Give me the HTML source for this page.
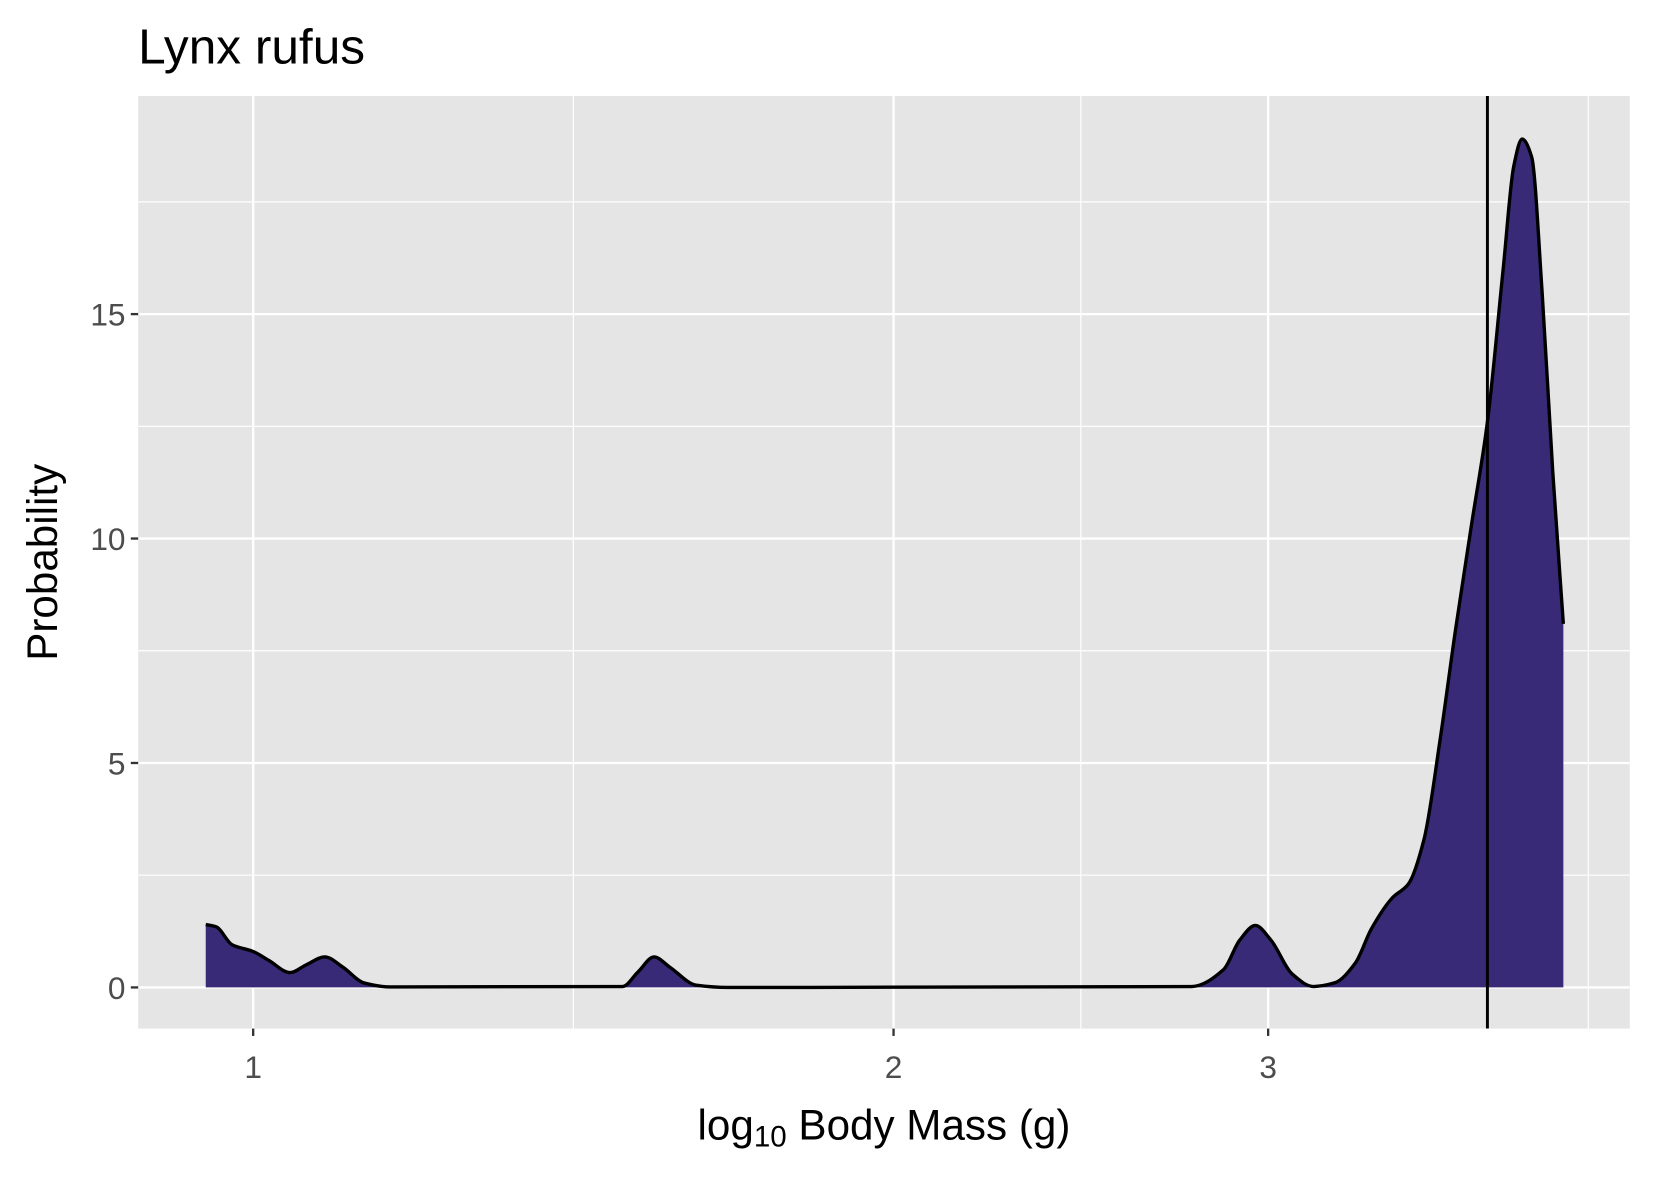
<!DOCTYPE html>
<html><head><meta charset="utf-8"><style>
html,body{margin:0;padding:0;background:#fff}
svg{display:block;font-family:"Liberation Sans",Arial,sans-serif}
</style></head><body>
<svg id="chart" width="1653" height="1181" viewBox="0 0 1567 1119.5" preserveAspectRatio="none" xmlns="http://www.w3.org/2000/svg">
<text x="131" y="60" font-size="47" fill="#000">Lynx rufus</text>
<rect x="131" y="91" width="1414" height="884" fill="#e5e5e5"/>
<g id="grid"></g>
<g id="marks"></g>
<g id="axes"></g>
<text x="838" y="1080" font-size="40" text-anchor="middle" fill="#000">log<tspan font-size="28" dy="7">10</tspan><tspan dy="-7"> Body Mass (g)</tspan></text>
<text transform="translate(54,533) rotate(-90)" font-size="40" text-anchor="middle" fill="#000">Probability</text>
</svg>
<script>
// x values are log10 of the axis value (axis is log-scaled)
const logX = [-0.0223,-0.0174,-0.0099,0,0.0074,0.0174,0.0248,0.0337,0.0422,0.0521,0.0645,0.1736,0.1810,0.1884,0.1959,0.2083,0.2231,0.4413,0.4562,0.4637,0.4711,0.4785,0.4884,0.4984,0.5083,0.5182,0.5256,0.5356,0.5430,0.5504,0.5579,0.5653,0.5727,0.5802,0.5876,0.5926,0.5965,0.6010,0.6059,0.6109,0.6159];
const density = [1.4,1.35,0.95,0.8,0.6,0.33,0.5,0.68,0.45,0.1,0.01,0.02,0.35,0.68,0.45,0.05,0,0.02,0.4,1.05,1.38,1.05,0.3,0.02,0.1,0.55,1.3,2.0,2.3,3.3,5.5,8.0,10.3,12.6,16.0,18.3,18.9,18.5,15.5,11.5,8.1];
const vline = [0.5802];
const xTicks = [1,2,3];
const xMinor = [1.4142,2.4495,4.2426];
const yTicks = [0,5,10,15];
const yMinor = [2.5,7.5,12.5,17.5];

const NS="http://www.w3.org/2000/svg";
const xs = v => 240 + Math.log10(v)*2016.6;
const xl = l => 240 + l*2016.6;
const ys = v => 936 - v*42.55;
function mk(tag, attrs, parent){const e=document.createElementNS(NS,tag);for(const k in attrs)e.setAttribute(k,attrs[k]);document.getElementById(parent).appendChild(e);return e;}

yMinor.forEach(v=>{const e=mk('line',{x1:131,x2:1545,y1:ys(v),y2:ys(v),stroke:'#fff','stroke-width':1.1},'grid');

});
xMinor.forEach(v=>{const e=mk('line',{x1:xs(v),x2:xs(v),y1:91,y2:975,stroke:'#fff','stroke-width':1.1},'grid');

});
yTicks.forEach(v=>{const e=mk('line',{x1:131,x2:1545,y1:ys(v),y2:ys(v),stroke:'#fff','stroke-width':2.2},'grid');


const t=mk('line',{x1:124,x2:131,y1:ys(v),y2:ys(v),stroke:'#333','stroke-width':2.2},'axes');


const l=mk('text',{x:119,y:ys(v)+11,'font-size':30,'text-anchor':'end',fill:'#4d4d4d'},'axes');l.textContent=v;

});
xTicks.forEach(v=>{const e=mk('line',{x1:xs(v),x2:xs(v),y1:91,y2:975,stroke:'#fff','stroke-width':2.2},'grid');


const t=mk('line',{x1:xs(v),x2:xs(v),y1:975,y2:982,stroke:'#333','stroke-width':2.2},'axes');


const l=mk('text',{x:xs(v),y:1022,'font-size':30,'text-anchor':'middle',fill:'#4d4d4d'},'axes');l.textContent=v;

});

const pts = logX.map((l,i)=>[xl(l),ys(density[i])]);
// monotone cubic (Fritsch-Carlson)
function monotone(p){const n=p.length,d=[],m=[];
for(let i=0;i<n-1;i++)d.push((p[i+1][1]-p[i][1])/(p[i+1][0]-p[i][0]));
m[0]=d[0];m[n-1]=d[n-2];
for(let i=1;i<n-1;i++){if(d[i-1]*d[i]<=0)m[i]=0;else{const h0=p[i][0]-p[i-1][0],h1=p[i+1][0]-p[i][0];m[i]=3*(h0+h1)/((2*h1+h0)/d[i-1]+(h1+2*h0)/d[i]);}}
let s=`M${p[0][0]},${p[0][1]}`;
for(let i=0;i<n-1;i++){const h=(p[i+1][0]-p[i][0])/3;
s+=` C${p[i][0]+h},${p[i][1]+m[i]*h} ${p[i+1][0]-h},${p[i+1][1]-m[i+1]*h} ${p[i+1][0]},${p[i+1][1]}`;}
return s;}
const line = monotone(pts);
const area = mk('path',{d:line+` L${pts[pts.length-1][0]},${ys(0)} L${pts[0][0]},${ys(0)} Z`,fill:'#382a76'},'marks');


const ln = mk('path',{d:line,fill:'none',stroke:'#000','stroke-width':3.2,'stroke-linejoin':'round'},'marks');


vline.forEach(l=>{const v=mk('line',{x1:xl(l),x2:xl(l),y1:91,y2:975,stroke:'#000','stroke-width':2.8},'marks');

});
</script>
</body></html>
